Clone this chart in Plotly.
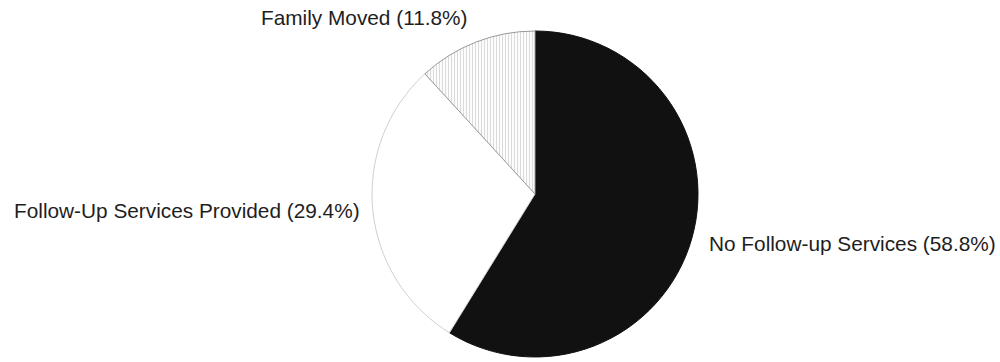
import plotly.graph_objects as go

# Outcome categories and their shares (percent)
labels = ["No Follow-up Services", "Follow-Up Services Provided", "Family Moved"]
shares = [58.8, 29.4, 11.8]
label_text = [f"{l} ({v}%)" for l, v in zip(labels, shares)]

W, H = 1000, 362
cx, cy, r = 535, 194, 163  # pie centre and radius in pixels

fig = go.Figure(
    go.Pie(
        labels=labels,
        values=shares,
        sort=False,
        direction="clockwise",
        rotation=0,
        textinfo="none",
        hoverinfo="label+percent",
        marker=dict(
            colors=["#111111", "#ffffff", "#f6f6f6"],
            line=dict(color=["#111111", "#d0d0d0", "#9a9a9a"], width=1),
            pattern=dict(
                shape=["", "", "|"],
                fgcolor="#c4c4c4",
                bgcolor="#fcfcfc",
                size=3,
                solidity=0.2,
            ),
        ),
        domain=dict(
            x=[(cx - r) / W, (cx + r) / W],
            y=[(H - cy - r) / H, (H - cy + r) / H],
        ),
        showlegend=False,
    )
)

font = dict(family="Liberation Sans, Arial, sans-serif", size=20.8, color="#1e1e1e")
# label anchor points: (left x, middle y) in pixels
anchors = [(707, 243), (12, 210), (259, 18)]
for txt, (ax, ay) in zip(label_text, anchors):
    fig.add_annotation(
        x=ax / W, y=1 - ay / H, xref="paper", yref="paper",
        text=txt, showarrow=False, xanchor="left", yanchor="middle",
        font=font,
    )

fig.update_layout(
    width=W, height=H,
    margin=dict(l=0, r=0, t=0, b=0),
    paper_bgcolor="white", plot_bgcolor="white",
)

fig.write_html("out.html")
